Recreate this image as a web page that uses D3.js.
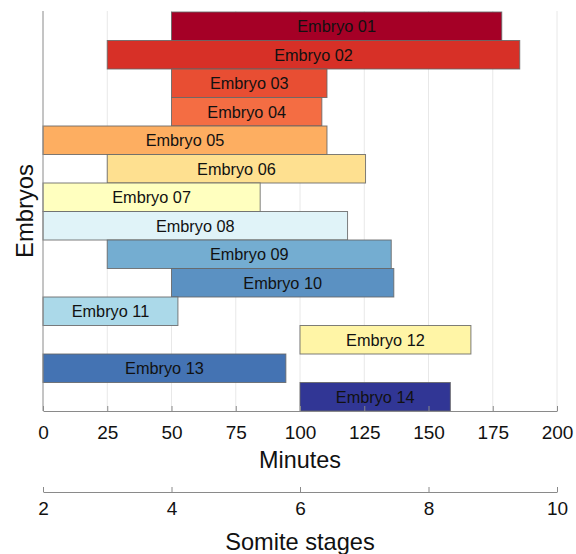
<!DOCTYPE html>
<html>
<head>
<meta charset="utf-8">
<script src="https://cdn.jsdelivr.net/npm/d3@7"></script>
<style>
  body { margin: 0; background: #fff; }
  text { font-family: "Liberation Sans", Arial, Helvetica, sans-serif; fill: #111; }
</style>
</head>
<body>
<div id="chart"></div>
<script>
// data
var embryos = ["Embryo 01", "Embryo 02", "Embryo 03", "Embryo 04", "Embryo 05", "Embryo 06", "Embryo 07",
  "Embryo 08", "Embryo 09", "Embryo 10", "Embryo 11", "Embryo 12", "Embryo 13", "Embryo 14"]
var startMin = [50, 25, 50, 50, 0, 25, 0, 0, 25, 50, 0, 100, 0, 100]
var endMin = [178.5, 185.5, 110.5, 108.5, 110.5, 125.5, 84.5, 118.5, 135.5, 136.5, 52.5, 166.5, 94.5, 158.5]
var colors = ["#a50026", "#d73027", "#e84e33", "#f46d43", "#fdae61", "#fee090", "#ffffbf",
  "#e0f3f8", "#74add1", "#5b91c2", "#abd9e9", "#fff5a6", "#4473b3", "#313695"]
var minuteTicks = [0, 25, 50, 75, 100, 125, 150, 175, 200]
var somiteTicks = [2, 4, 6, 8, 10]

var W = 576, H = 554
var margin = { left: 43, right: 19, top: 11, bottom: 143 }

var svg = d3.select("#chart").append("svg")
  .attr("width", W)
  .attr("height", H)

var x = d3.scaleLinear().domain([0, 200]).range([margin.left, W - margin.right])
var y = d3.scaleBand().domain(embryos).range([margin.top + 1, H - margin.bottom]).padding(0)
var xs = d3.scaleLinear().domain([2, 10]).range([margin.left, W - margin.right])

var bottom = H - margin.bottom

// grid lines
svg.append("g")
  .selectAll("line")
  .data(minuteTicks.slice(1))
  .join("line")
  .attr("x1", d => x(d)).attr("x2", d => x(d))
  .attr("y1", margin.top).attr("y2", bottom)
  .attr("stroke", "#e8e8e8")
  .attr("stroke-width", 1)

// bars
var bars = svg.append("g")
  .selectAll("g")
  .data(embryos)
  .join("g")

bars.append("rect")
  .attr("x", (d, i) => x(startMin[i]))
  .attr("y", d => y(d))
  .attr("width", (d, i) => x(endMin[i]) - x(startMin[i]))
  .attr("height", y.bandwidth())
  .attr("fill", (d, i) => colors[i])
  .attr("stroke", "#666")
  .attr("stroke-opacity", 0.85)
  .attr("stroke-width", 1)

bars.append("text")
  .attr("x", (d, i) => (x(startMin[i]) + x(endMin[i])) / 2)
  .attr("y", d => y(d) + y.bandwidth() / 2)
  .attr("dy", "0.36em")
  .attr("text-anchor", "middle")
  .attr("font-size", 16.3)
  .text(d => d)

// left axis line
svg.append("line")
  .attr("x1", margin.left).attr("x2", margin.left)
  .attr("y1", margin.top).attr("y2", bottom)
  .attr("stroke", "#8a8a8a")

// minutes axis
var ax1 = svg.append("g")
  .attr("transform", `translate(0,${bottom})`)
  .call(d3.axisBottom(x).tickValues(minuteTicks).tickSizeInner(-5).tickSizeOuter(0).tickPadding(14.5))
ax1.select(".domain").attr("stroke", "#8a8a8a")
ax1.selectAll(".tick line").attr("stroke", "#8a8a8a")
ax1.selectAll(".tick text").attr("font-size", 19).attr("fill", "#111")
  .attr("font-family", "Liberation Sans, Arial, sans-serif")

svg.append("text")
  .attr("x", x(100))
  .attr("y", 468)
  .attr("text-anchor", "middle")
  .attr("font-size", 23.4)
  .text("Minutes")

// somite stages axis
var ax2y = bottom + 81
var ax2 = svg.append("g")
  .attr("transform", `translate(0,${ax2y})`)
  .call(d3.axisBottom(xs).tickValues(somiteTicks).tickSizeInner(-5).tickSizeOuter(0).tickPadding(9.5))
ax2.select(".domain").attr("stroke", "#8a8a8a")
ax2.selectAll(".tick line").attr("stroke", "#8a8a8a")
ax2.selectAll(".tick text").attr("font-size", 19).attr("fill", "#111")
  .attr("font-family", "Liberation Sans, Arial, sans-serif")

svg.append("text")
  .attr("x", xs(6))
  .attr("y", 550)
  .attr("text-anchor", "middle")
  .attr("font-size", 23.6)
  .text("Somite stages")

// y label
svg.append("text")
  .attr("transform", `translate(32.5,${(margin.top + bottom) / 2}) rotate(-90)`)
  .attr("text-anchor", "middle")
  .attr("font-size", 23.8)
  .text("Embryos")
</script>
</body>
</html>
